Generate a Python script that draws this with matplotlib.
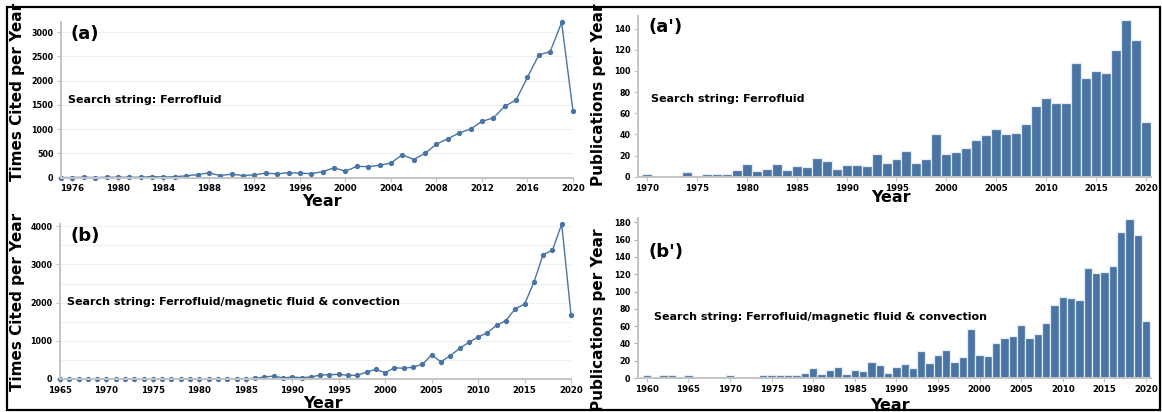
import matplotlib
matplotlib.use('Agg')
from matplotlib import pyplot as plt
from matplotlib.patches import Rectangle

plt.rcParams['font.family'] = 'DejaVu Sans'
plt.rcParams['font.weight'] = 'bold'

W, H = 1162, 412
BLUE = '#4a74a3'
AXIS_GREY = '#c4c4c4'

# (a) times cited per year, search string: Ferrofluid
years_a = list(range(1975, 2021))
cited_a = [0, 0, 5, 0, 5, 5, 5, 5, 20, 10, 15, 35, 60, 95, 40, 70, 40, 55, 90, 75,
           100, 90, 80, 120, 200, 130, 230, 225, 250, 300, 470, 370, 500, 690, 800,
           920, 1000, 1160, 1230, 1470, 1600, 2070, 2530, 2600, 3200, 1370]

# (b) times cited per year, search string: Ferrofluid/magnetic fluid & convection
years_b = list(range(1965, 2021))
cited_b = [0, 0, 0, 0, 0, 0, 0, 0, 0, 0, 0, 0, 0, 0, 0, 0, 5, 5, 10, 10,
           10, 17, 52, 78, 26, 52, 35, 52, 104, 113, 122, 96, 96, 183, 252, 165,
           296, 278, 313, 383, 630, 450, 610, 800, 960, 1100, 1210, 1410, 1530,
           1845, 1960, 2530, 3260, 3370, 4060, 1680]

# (a') publications per year, search string: Ferrofluid
years_ap = [1970, 1974] + list(range(1976, 2021))
pubs_ap = [3, 4, 3, 3, 3, 6, 12, 5, 7, 12, 6, 10, 9, 18, 15, 7, 11, 11, 10, 21,
           13, 17, 24, 13, 17, 40, 21, 23, 27, 35, 39, 45, 40, 41, 50, 67, 74,
           70, 70, 108, 93, 100, 98, 120, 148, 129, 52]

# (b') publications per year, search string: Ferrofluid/magnetic fluid & convection
years_bp = [1960, 1962, 1963, 1965, 1970] + list(range(1974, 2021))
pubs_bp = [3, 4, 3, 3, 3, 4, 4, 3, 4, 3, 6, 12, 5, 9, 13, 5, 9, 8, 19, 15,
           6, 13, 16, 12, 31, 17, 27, 32, 18, 24, 57, 27, 26, 41, 46, 49, 61,
           46, 51, 64, 84, 94, 92, 90, 127, 121, 123, 129, 169, 184, 165, 66]

ticks_a = list(range(1976, 2021, 4))
ticks_b = list(range(1965, 2021, 5))
ticks_ap = list(range(1970, 2021, 5))
ticks_bp = list(range(1960, 2021, 5))


def box(x0, y0, x1, y1):
    """pixel box (top-left origin) -> figure fraction rect"""
    return [x0 / W, 1 - y1 / H, (x1 - x0) / W, (y1 - y0) / H]


def style_axes(ax, grid_step=None):
    for side in ('top', 'right'):
        ax.spines[side].set_visible(False)
    for side in ('left', 'bottom'):
        ax.spines[side].set_color(AXIS_GREY)
        ax.spines[side].set_linewidth(1.4)
    ax.tick_params(axis='both', colors=AXIS_GREY, labelcolor='black', length=3, width=0.8)
    ax.tick_params(axis='y', labelsize=5.8, pad=2.5)
    ax.tick_params(axis='x', labelsize=6.2, pad=2)
    for lab in ax.get_xticklabels() + ax.get_yticklabels():
        lab.set_fontweight('bold')
    if grid_step:
        lo, hi = ax.get_ylim()
        v = grid_step
        while v < hi:
            ax.axhline(v, color='#efefef', lw=0.8, zorder=0)
            v += grid_step
    ax.set_axisbelow(True)


fig = plt.figure(figsize=(W / 100, H / 100), dpi=100)

# (a)
ax = fig.add_axes(box(61, 22, 573, 177.5))
ax.plot(years_a, cited_a, color=BLUE, lw=1, marker='o', ms=2.8, clip_on=False)
ax.set_xlim(1975, 2020)
ax.set_ylim(0, 3210)
ax.set_xticks(ticks_a)
ax.set_yticks(range(0, 3001, 500))
style_axes(ax, 500)

# (b)
ax = fig.add_axes(box(60, 224, 571, 379))
ax.plot(years_b, cited_b, color=BLUE, lw=1, marker='o', ms=2.8, clip_on=False)
ax.set_xlim(1965, 2020)
ax.set_ylim(0, 4060)
ax.set_xticks(ticks_b)
ax.set_yticks(range(0, 4001, 1000))
style_axes(ax, 500)

# (a')
ax = fig.add_axes(box(638, 16, 1151, 176.7))
ax.bar(years_ap, pubs_ap, width=1.0, color=BLUE, edgecolor='#e4ebf2', lw=0.9)
ax.set_xlim(1969.1, 2020.5)
ax.set_ylim(0, 152)
ax.set_xticks(ticks_ap)
ax.set_yticks(range(0, 141, 20))
style_axes(ax)

# (b')
ax = fig.add_axes(box(638, 218, 1151, 378))
ax.bar(years_bp, pubs_bp, width=1.0, color=BLUE, edgecolor='#e4ebf2', lw=0.9)
ax.set_xlim(1958.95, 2020.6)
ax.set_ylim(0, 185)
ax.set_xticks(ticks_bp)
ax.set_yticks(range(0, 181, 20))
style_axes(ax)
ax.tick_params(axis='y', colors='#8fb0d0', labelcolor='black')


def ftext(x, y, s, size, **kw):
    fig.text(x / W, 1 - y / H, s, fontsize=size, fontweight='bold',
             ha=kw.pop('ha', 'center'), va=kw.pop('va', 'center'), **kw)


# axis titles
ftext(18, 92, 'Times Cited per Year', 11, rotation=90)
ftext(18, 302, 'Times Cited per Year', 11, rotation=90)
ftext(598, 95, 'Publications per Year', 11, rotation=90)
ftext(598, 320, 'Publications per Year', 11, rotation=90)
ftext(322, 201, 'Year', 11.5)
ftext(323, 403, 'Year', 11.5)
ftext(891, 198, 'Year', 11.5)
ftext(890, 405, 'Year', 11.5)

# panel letters
ftext(70, 34, '(a)', 13, ha='left')
ftext(70, 236, '(b)', 13, ha='left')
ftext(648, 27, "(a')", 13, ha='left')
ftext(648, 252, "(b')", 13, ha='left')

# search strings
ftext(68, 100, 'Search string: Ferrofluid', 8, ha='left')
ftext(651, 99, 'Search string: Ferrofluid', 8, ha='left')
ftext(67, 302, 'Search string: Ferrofluid/magnetic fluid & convection', 8, ha='left')
ftext(654, 317, 'Search string: Ferrofluid/magnetic fluid & convection', 8, ha='left')

# outer frame
fig.add_artist(Rectangle((7 / W, 1 - 410 / H), (1160 - 7) / W, (410 - 7) / H,
                         transform=fig.transFigure, fill=False, edgecolor='black', lw=1.6))

fig.savefig('out.png', dpi=100)
